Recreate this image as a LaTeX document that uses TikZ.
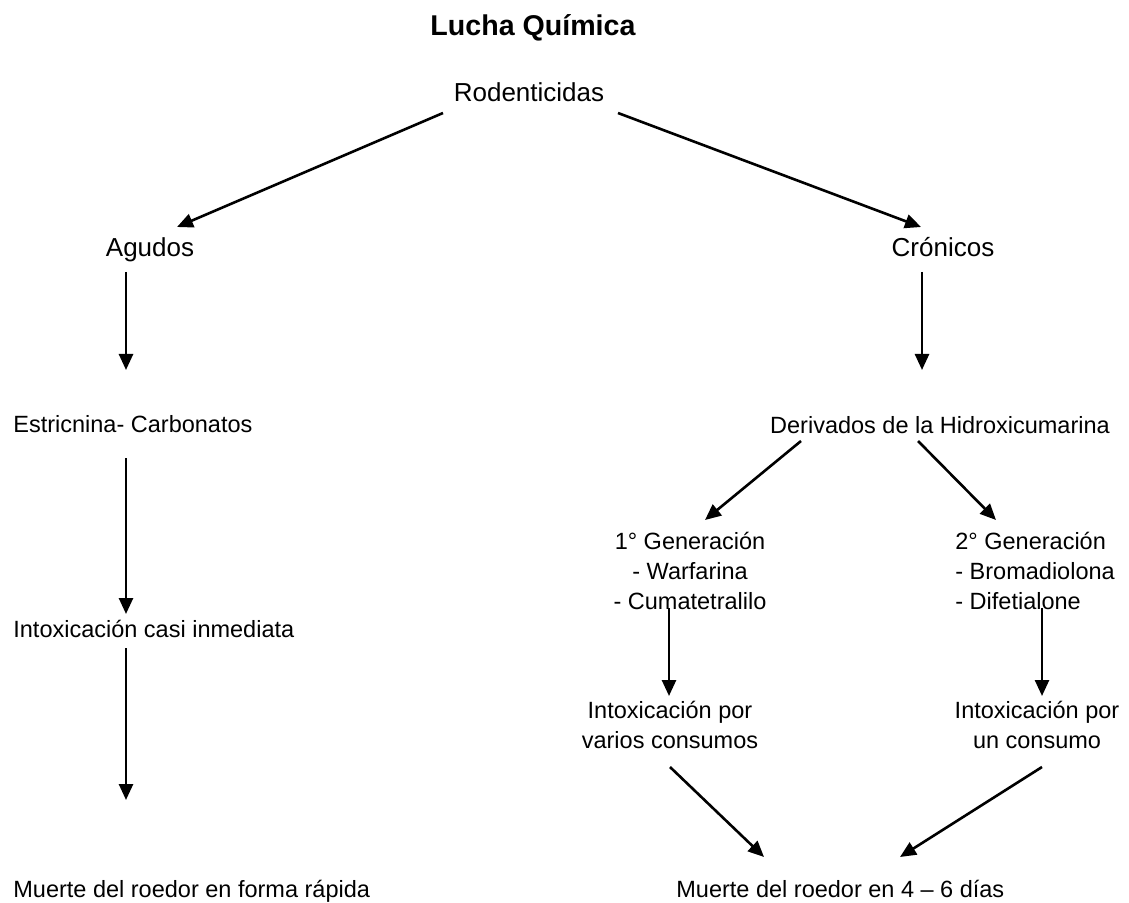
\documentclass[tikz,border=0pt]{standalone}
\usepackage{fontspec}
\setmainfont{Liberation Sans}
\usetikzlibrary{arrows.meta, calc}

\begin{document}
\begin{tikzpicture}[x=0.5pt,y=-0.5pt,
  txt/.style={inner sep=0pt, font=\fontsize{11.75}{15}\selectfont},
  toptxt/.style={inner sep=0pt, font=\fontsize{13}{15.6}\selectfont},
  arr/.style={-{Triangle[length=8pt,width=7pt]}, line width=1.3pt}]

  % --- Page frame (pixel grid, y grows downwards) ---
  \fill[white] (0,0) rectangle (1129,903);
  \useasboundingbox (0,0) rectangle (1129,903);

  % --- Title and first levels ---
  \node[inner sep=0pt,font=\fontsize{14.3}{17}\selectfont\bfseries,anchor=base] (title) at (533,36) {Lucha Química};
  \node[toptxt,anchor=base] (rod) at (529,102) {Rodenticidas};
  \node[toptxt,anchor=base] (agu) at (150,257) {Agudos};
  \node[toptxt,anchor=base] (cro) at (943,257) {Crónicos};

  % --- Left branch (agudos) ---
  \node[txt,anchor=base west] (est) at (13,432) {Estricnina- Carbonatos};
  \node[txt,anchor=base west] (intc) at (13,637) {Intoxicación casi inmediata};
  \node[txt,anchor=base west] (mr) at (13,897) {Muerte del roedor en forma rápida};

  % --- Right branch (cronicos); multi-line nodes sit on their last line ---
  \node[txt,anchor=base] (der) at (940,433) {Derivados de la Hidroxicumarina};
  \node[txt,anchor=base,align=center] (gen1) at (690,609) {1° Generación\\ - Warfarina\\ - Cumatetralilo};
  \node[txt,anchor=base west,align=left] (gen2) at (955,609) {2° Generación\\- Bromadiolona\\- Difetialone};
  \node[txt,anchor=base,align=center] (intv) at (670,748) {Intoxicación por\\varios consumos};
  \node[txt,anchor=base,align=center] (intu) at (1037,748) {Intoxicación por\\un consumo};
  \node[txt,anchor=base west] (m46) at (676,897) {Muerte del roedor en 4 – 6 días};

  % --- Arrows ---
  \draw[arr] ($(rod.base)+(-86,11)$) -- ($(agu.base)+(27,-30)$);
  \draw[arr] ($(rod.base)+(89,11)$) -- ($(cro.base)+(-22,-30)$);
  \draw[arr] ($(agu.base)+(-24,15)$) -- ($(est.base west)+(113,-62)$);
  \draw[arr] ($(est.base west)+(113,26)$) -- ($(intc.base west)+(113,-23)$);
  \draw[arr] ($(intc.base west)+(113,11)$) -- ($(mr.base west)+(113,-97)$);
  \draw[arr] ($(cro.base)+(-21,15)$) -- ($(der.base)+(-18,-63)$);
  \draw[arr] ($(der.base)+(-139,8)$) -- ($(gen1.base)+(15,-89)$);
  \draw[arr] ($(der.base)+(-22,8)$) -- ($(gen2.base west)+(41,-89)$);
  \draw[arr] ($(gen1.base)+(-21,-1)$) -- ($(intv.base)+(-1,-52)$);
  \draw[arr] ($(gen2.base west)+(87,-1)$) -- ($(intu.base)+(5,-52)$);
  \draw[arr] ($(intv.base)+(0,19)$) -- ($(m46.base west)+(88,-40)$);
  \draw[arr] ($(intu.base)+(5,19)$) -- ($(m46.base west)+(224,-40)$);

\end{tikzpicture}
\end{document}
